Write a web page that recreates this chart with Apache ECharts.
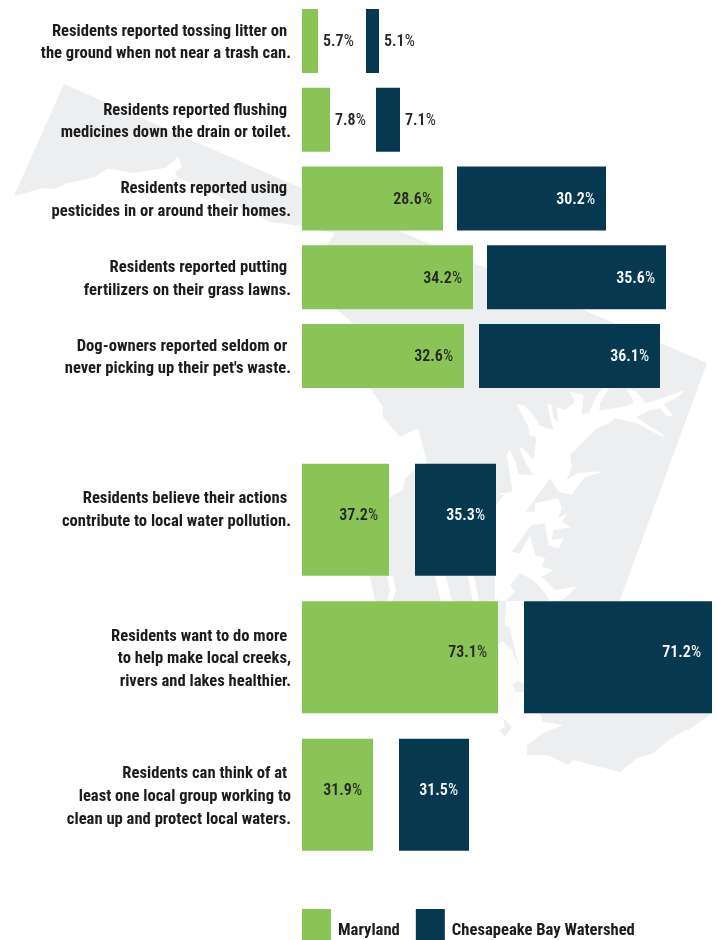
<!DOCTYPE html>
<html><head><meta charset="utf-8"><style>html,body{margin:0;background:#fff}</style>
<script src="https://cdn.jsdelivr.net/npm/echarts@6/dist/echarts.min.js"></script></head>
<body><div id="c" style="width:717px;height:940px"></div>
<script>
// Row captions
const behaviourCategories = [
  "Residents reported tossing litter on \nthe ground when not near a trash can.",
  "Residents reported flushing \nmedicines down the drain or toilet.",
  "Residents reported using \npesticides in or around their homes.",
  "Residents reported putting \nfertilizers on their grass lawns.",
  "Dog-owners reported seldom or \nnever picking up their pet's waste."
];
const attitudeCategories = [
  "Residents believe their actions \ncontribute to local water pollution.\n ",
  "Residents want to do more \nto help make local creeks,\nrivers and lakes healthier.",
  "Residents can think of at \nleast one local group working to\nclean up and protect local waters."
];
// Printed percentages
const marylandBehaviour = [5.7, 7.8, 28.6, 34.2, 32.6];
const watershedBehaviour = [5.1, 7.1, 30.2, 35.6, 36.1];
const marylandAttitude = [37.2, 73.1, 31.9];
const watershedAttitude = [35.3, 71.2, 31.5];
// The infographic's bars are not to one scale: drawn bar lengths, on the hidden axis
const marylandBehaviourLength = [16, 28, 141, 171, 162];
const gapBehaviourLength = [48, 46, 14, 14, 15];
const watershedBehaviourLength = [13, 24, 149, 179, 181];
const marylandAttitudeLength = [87, 196, 71];
const gapAttitudeLength = [26, 26, 26];
const watershedAttitudeLength = [81, 188, 70];
const axisMax = 415;
const MD = 'Maryland', CB = 'Chesapeake Bay Watershed';
const GREEN = '#8bc456', NAVY = '#06384f', GREY = '#edeef0', INK = '#1c1c1c';
const FONT = '"Roboto Condensed","Liberation Sans Narrow",sans-serif';

// Decorative state silhouette behind the chart
const stateOutline = [[64,84],[397,230],[707,363],[620,600],[600,680],[705,690],[712,713],[693,727],[673,737],[653,753],[637,758],[620,772],[573,760],[568,765],[547,755],[527,755],[527,745],[543,733],[563,725],[543,722],[540,713],[500,708],[420,690],[375,601],[370,577],[385,500],[390,497],[403,490],[405,478],[415,470],[427,463],[418,428],[400,437],[383,417],[383,407],[370,388],[353,323],[337,310],[327,245],[335,233],[302,226],[270,222],[230,202],[207,190],[177,177],[175,172],[182,167],[178,157],[165,168],[133,173],[117,170],[107,169],[93,178],[67,183],[55,189],[43,188],[14,196]];
const bayCrop = [[358,24],[330,70],[328,92],[400,80],[432,68],[410,26],[440,35],[468,70],[530,50],[585,30],[565,50],[522,72],[550,110],[530,108],[510,85],[480,90],[438,112],[520,165],[520,172],[440,130],[375,115],[358,130],[320,145],[240,225],[245,262],[230,300],[265,278],[340,274],[285,292],[258,325],[245,345],[205,335],[180,295],[108,395],[135,395],[135,370],[205,355],[215,385],[205,415],[232,400],[215,425],[243,442],[190,450],[185,480],[222,475],[205,505],[175,495],[165,430],[125,435],[65,515],[90,520],[120,465],[135,525],[165,535],[155,560],[190,570],[155,590],[195,630],[260,620],[225,655],[200,665],[150,999],[-20,1000],[-20,680],[15,690],[15,590],[10,400],[18,375],[42,345],[18,342],[68,335],[50,225],[60,210],[78,250],[85,283],[130,285],[105,245],[88,205],[100,205],[130,240],[140,170],[118,165],[115,140],[80,72],[105,78],[135,110],[148,135],[170,145],[190,148],[180,110],[172,72],[185,75],[190,115],[205,125],[200,80],[225,90],[255,65],[240,35],[280,45],[275,105],[298,98],[320,45],[340,24]];
const bayOutline = bayCrop.map(p => [490 + p[0] / 3, 380 + p[1] / 3]);
const whiteStripes = [
  [[387,576],[393,576],[396,590],[392,602],[387,602],[390,590]],
  [[435,576],[446,576],[452,602],[441,602]],
  [[468,576],[474,576],[479,602],[473,602]]
];
const greyIslands = [
  [[510,585],[520,573],[533,580],[545,593],[550,601],[505,601],[515,592]],
  [[498,601],[506,601],[505,626],[510,628],[519,668],[512,650],[502,641],[498,645]],
  [[512,684],[518,681],[524,684],[524,692],[516,692]],
  [[503,718],[512,727],[505,737],[499,730],[505,727]]
];
const poly = (points, fill, z) => ({type:'polygon', silent:true, z, shape:{points}, style:{fill}});

function labelled(pct, lengths, dark, inner, shiftY) {
  return lengths.map((v, i) => {
    const outside = !inner[i];
    const onBar = !outside && !dark;
    const col = onBar ? '#fff' : '#262626';
    return {
      value: v,
      label: {
        show: true,
        position: outside ? 'right' : 'insideRight',
        distance: outside ? 5 : 11,
        offset: [0, shiftY],
        formatter: () => `{n|${pct[i].toFixed(1)}}{p|%}`,
        rich: {
          n: {fontFamily:FONT, fontSize:16, fontWeight:600, color:col},
          p: {fontFamily:FONT, fontSize:16, fontWeight:400, color:col}
        }
      }
    };
  });
}
function rows(grid, md, mdLen, gap, cb, cbLen, shiftY) {
  const inner = mdLen.map(v => v > 50);
  return [
    {name:MD, type:'bar', stack:'s'+grid, xAxisIndex:grid, yAxisIndex:grid, barWidth:grid?112:64,
      itemStyle:{color:GREEN}, data:labelled(md, mdLen, true, inner, shiftY)},
    {name:'gap', type:'bar', stack:'s'+grid, xAxisIndex:grid, yAxisIndex:grid, barWidth:grid?112:64,
      itemStyle:{color:'transparent'}, silent:true, data:gap},
    {name:CB, type:'bar', stack:'s'+grid, xAxisIndex:grid, yAxisIndex:grid, barWidth:grid?112:64,
      itemStyle:{color:NAVY}, data:labelled(cb, cbLen, false, inner, shiftY)}
  ];
}
function yAxis(grid, cats, showLabels) {
  return {gridIndex:grid, type:'category', inverse:true, data:cats,
    axisLine:{show:false}, axisTick:{show:false}, splitLine:{show:false},
    axisLabel:{show:showLabels, interval:0, margin:11, align:'right',
      fontFamily:FONT, fontWeight:700, fontSize:16.6, color:INK, lineHeight:22.7}};
}
const xAxis = g => ({gridIndex:g, type:'value', min:0, max:axisMax, show:false});

const chart = echarts.init(document.getElementById('c'));
chart.setOption({
  animation:false,
  backgroundColor:'#fff',
  graphic:[
    poly(stateOutline, GREY, -5),
    poly(bayOutline, '#fff', -4),
    ...whiteStripes.map(s => poly(s, '#fff', -4)),
    ...greyIslands.map(s => poly(s, GREY, -3))
  ],
  grid:[
    {left:302, width:axisMax, top:1.6, height:393.75},
    {left:302, width:axisMax, top:451, height:412.5},
    // caption grids: same bands, set slightly lower than the bars
    {left:302, width:axisMax, top:3.6, height:393.75},
    {left:302, width:axisMax, top:453, height:412.5}
  ],
  xAxis:[xAxis(0), xAxis(1), xAxis(2), xAxis(3)],
  yAxis:[yAxis(0, behaviourCategories, false), yAxis(1, attitudeCategories, false),
         yAxis(2, behaviourCategories, true), yAxis(3, attitudeCategories, true)],
  legend:{left:302, top:909, itemWidth:29, itemHeight:31, itemGap:16, padding:0,
    icon:'rect', selectedMode:false, data:[MD, CB], formatter:'{t|{name}}',
    textStyle:{rich:{t:{fontFamily:FONT, fontWeight:700, fontSize:16.6, color:INK, padding:[13,0,0,2]}}}},
  series:[
    ...rows(0, marylandBehaviour, marylandBehaviourLength, gapBehaviourLength, watershedBehaviour, watershedBehaviourLength, 1.5),
    ...rows(1, marylandAttitude, marylandAttitudeLength, gapAttitudeLength, watershedAttitude, watershedAttitudeLength, -4)
  ]
});
</script></body></html>
